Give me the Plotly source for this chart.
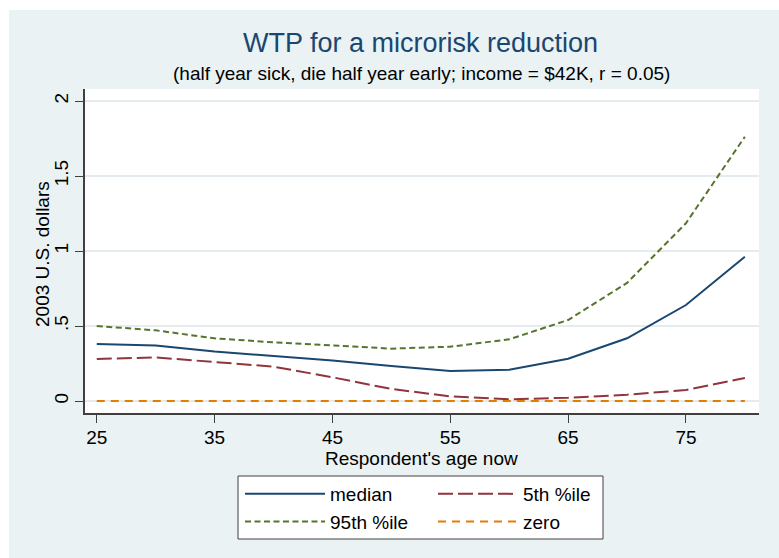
import plotly.graph_objects as go

ages = [25, 30, 35, 40, 45, 50, 55, 60, 65, 70, 75, 80]
median = [0.38, 0.37, 0.33, 0.30, 0.27, 0.233, 0.20, 0.209, 0.282, 0.418, 0.64, 0.962]
p5 = [0.28, 0.29, 0.26, 0.229, 0.158, 0.08, 0.031, 0.011, 0.022, 0.042, 0.073, 0.153]
p95 = [0.50, 0.471, 0.418, 0.391, 0.371, 0.349, 0.362, 0.411, 0.54, 0.787, 1.185, 1.762]
zero = [0] * len(ages)

xticks = [25, 35, 45, 55, 65, 75]
yticks = [0, 0.5, 1, 1.5, 2]
ytick_labels = ["0", ".5", "1", "1.5", "2"]

FONT = "Liberation Sans, Arial, sans-serif"
BG = "#EAF2F3"

fig = go.Figure()
fig.add_trace(go.Scatter(x=ages, y=median, mode="lines", name="median", legend="legend",
                         line=dict(color="#1A476F", width=2)))
fig.add_trace(go.Scatter(x=ages, y=p5, mode="lines", name="5th %ile", legend="legend2",
                         line=dict(color="#90353B", width=2, dash="15px,5px")))
fig.add_trace(go.Scatter(x=ages, y=p95, mode="lines", name="95th %ile", legend="legend",
                         line=dict(color="#55752F", width=2, dash="6px,3.5px")))
fig.add_trace(go.Scatter(x=ages, y=zero, mode="lines", name="zero", legend="legend2",
                         line=dict(color="#E37E00", width=2, dash="8px,6px")))

L, R, T, B = 85, 20, 89, 145
W, H = 779, 558
pw, ph = W - L - R, H - T - B

def px_x(p):
    return (p - L) / pw

def px_y(p):
    return (H - B - p) / ph

shapes = [
    dict(type="rect", xref="paper", yref="paper", layer="below",
         x0=px_x(0), x1=px_x(9), y0=px_y(H), y1=px_y(0),
         fillcolor="white", line=dict(width=0)),
    dict(type="rect", xref="paper", yref="paper", layer="below",
         x0=px_x(0), x1=px_x(W), y0=px_y(10), y1=px_y(0),
         fillcolor="white", line=dict(width=0)),
    # legend frame
    dict(type="rect", xref="paper", yref="paper", layer="below",
         x0=px_x(238), x1=px_x(603), y0=px_y(539), y1=px_y(476),
         fillcolor="white", line=dict(width=1, color="#404040")),
]

leg_common = dict(orientation="v", xanchor="left", yanchor="top",
                  bgcolor="rgba(0,0,0,0)", borderwidth=0,
                  font=dict(size=19), itemwidth=80, traceorder="normal")

fig.update_layout(
    width=W, height=H,
    margin=dict(l=L, r=R, t=T, b=B, pad=0, autoexpand=False),
    paper_bgcolor=BG, plot_bgcolor="white",
    font=dict(family=FONT, size=19, color="black"),
    shapes=shapes,
    showlegend=True,
    legend=dict(x=px_x(240), y=px_y(475), **leg_common),
    legend2=dict(x=px_x(433), y=px_y(475), **leg_common),
    annotations=[
        dict(text="WTP for a microrisk reduction", xref="paper", yref="paper",
             x=px_x(420), y=px_y(43), xanchor="center", yanchor="middle",
             showarrow=False, font=dict(size=27, color="#1A476F")),
        dict(text="(half year sick, die half year early; income = $42K, r = 0.05)",
             xref="paper", yref="paper", x=px_x(421), y=px_y(73),
             xanchor="center", yanchor="middle", showarrow=False,
             font=dict(size=19, color="black")),
        dict(text="Respondent's age now", xref="paper", yref="paper",
             x=px_x(421), y=px_y(458), xanchor="center", yanchor="middle",
             showarrow=False, borderpad=0, font=dict(size=19, color="black")),
        dict(text="2003 U.S. dollars", xref="paper", yref="paper", textangle=-90,
             x=px_x(42), y=px_y(254), xanchor="center", yanchor="middle",
             showarrow=False, font=dict(size=19, color="black")),
    ],
)

fig.update_xaxes(range=[24.0, 81.2], tickvals=xticks, ticks="outside", ticklen=8,
                 tickcolor="#404040", showline=True, linecolor="#404040", linewidth=1.5,
                 showgrid=False, zeroline=False, automargin=False,
                 ticklabelstandoff=-2, tickfont=dict(size=19))
fig.update_yaxes(range=[-0.08, 2.08], tickvals=yticks, ticktext=ytick_labels,
                 ticks="outside", ticklen=8, tickcolor="#404040", tickangle=-90,
                 showline=True, linecolor="#404040", linewidth=1.5,
                 showgrid=True, gridcolor="#E4ECEF", gridwidth=1.5, zeroline=False,
                 automargin=False,
                 tickfont=dict(size=19))

fig.write_html("out.html", config={"displayModeBar": False},
               post_script="document.body.style.margin='0';")
